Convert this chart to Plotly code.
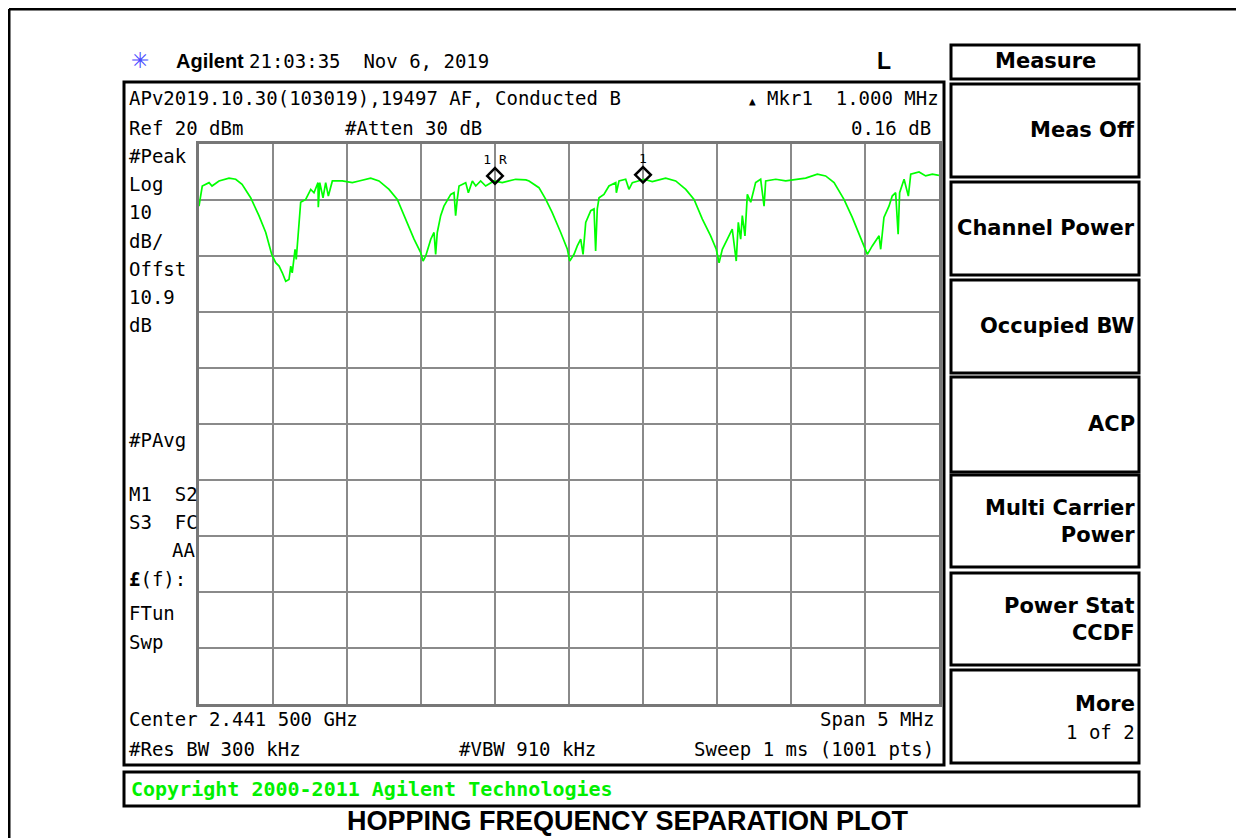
import plotly.graph_objects as go

# ---- data ----
freq_mhz = [
    2439.000, 2439.022, 2439.068, 2439.088, 2439.135, 2439.203, 2439.248, 2439.291, 2439.349, 2439.405,
    2439.451, 2439.491, 2439.518, 2439.541, 2439.563, 2439.586, 2439.608, 2439.620, 2439.630, 2439.649,
    2439.657, 2439.676, 2439.687, 2439.721, 2439.755, 2439.777, 2439.804, 2439.806, 2439.816, 2439.838,
    2439.856, 2439.874, 2439.901, 2439.968, 2440.036, 2440.081, 2440.160, 2440.216, 2440.284, 2440.340,
    2440.397, 2440.453, 2440.498, 2440.514, 2440.532, 2440.566, 2440.588, 2440.599, 2440.610, 2440.633,
    2440.655, 2440.701, 2440.723, 2440.734, 2440.745, 2440.757, 2440.802, 2440.820, 2440.847, 2440.870,
    2440.903, 2440.937, 2440.993, 2441.049, 2441.140, 2441.209, 2441.230, 2441.297, 2441.343, 2441.386,
    2441.444, 2441.489, 2441.505, 2441.534, 2441.556, 2441.579, 2441.595, 2441.613, 2441.647, 2441.669,
    2441.680, 2441.691, 2441.703, 2441.736, 2441.770, 2441.816, 2441.820, 2441.838, 2441.883, 2441.905,
    2441.928, 2442.007, 2442.063, 2442.153, 2442.221, 2442.289, 2442.345, 2442.401, 2442.457, 2442.495,
    2442.514, 2442.536, 2442.570, 2442.603, 2442.630, 2442.644, 2442.660, 2442.671, 2442.689, 2442.705,
    2442.728, 2442.761, 2442.795, 2442.818, 2442.829, 2442.897, 2442.964, 2443.032, 2443.099, 2443.178,
    2443.234, 2443.291, 2443.358, 2443.414, 2443.459, 2443.505, 2443.516, 2443.549, 2443.595, 2443.606,
    2443.628, 2443.662, 2443.684, 2443.707, 2443.724, 2443.734, 2443.764, 2443.793, 2443.809, 2443.865,
    2443.910, 2443.955, 2444.000,
]
level_dbm = [
    8.9, 12.5, 13.1, 12.5, 13.4, 13.9, 13.7, 12.8, 10.4, 7.2,
    4.2, 0.3, -1.2, -1.8, -3.0, -4.5, -4.2, -1.8, -3.0, 1.2,
    -0.6, 6.0, 9.6, 10.1, 11.9, 11.3, 13.1, 8.7, 13.1, 10.4,
    13.1, 10.7, 13.4, 13.4, 13.1, 13.4, 13.9, 13.4, 11.9, 10.1,
    6.6, 3.0, 0.6, -0.9, 0.0, 3.0, 4.2, 0.3, 4.2, 7.2,
    8.9, 11.0, 11.3, 7.2, 10.1, 12.5, 13.1, 11.3, 13.4, 12.5,
    13.4, 12.5, 13.4, 13.1, 13.7, 13.6, 13.4, 12.2, 10.1, 7.8,
    4.2, 1.2, -0.9, 0.3, 1.8, 3.0, 0.3, 6.0, 8.1, 8.4,
    0.9, 8.4, 10.4, 11.0, 12.5, 13.1, 11.3, 13.4, 13.7, 11.9,
    13.1, 13.7, 13.3, 13.9, 13.4, 11.9, 10.1, 6.6, 3.6, 1.2,
    -1.2, 1.2, 3.0, 4.8, -0.9, 6.0, 3.0, 7.2, 3.6, 11.0,
    9.6, 13.1, 13.7, 8.9, 13.4, 13.7, 13.4, 13.7, 13.9, 14.6,
    14.3, 13.1, 10.1, 6.9, 3.9, 0.9, 0.3, 1.8, 3.6, 1.2,
    6.9, 8.9, 10.7, 11.3, 3.9, 11.3, 13.7, 10.7, 14.6, 15.0,
    14.3, 14.6, 14.4,
]

marker_names = ["1 R", "1"]
marker_freq = [2441.0, 2442.0]
marker_db = [14.3, 14.5]

left_labels = ["#Peak", "Log", "10", "dB/", "Offst", "10.9", "dB"]
softkeys = ["Meas Off", "Channel Power", "Occupied BW", "ACP",
            "Multi Carrier<br>Power", "Power Stat<br>CCDF"]

# ---- page geometry (screen pixels, page body has an 8px margin) ----
W, H = 1236, 830
OFF = 8
MONO = "DejaVu Sans Mono"
SANS = "Liberation Sans"
KEYF = "DejaVu Sans"
NB = "\u00a0"


def px(x):
    return (x - OFF) / W


def py(y):
    return 1 - (y - OFF) / H


fig = go.Figure()

fig.add_trace(go.Scatter(
    x=freq_mhz, y=level_dbm, mode="lines",
    line=dict(color="#00ff00", width=1.7), showlegend=False, hoverinfo="skip",
))
fig.add_trace(go.Scatter(
    x=marker_freq, y=marker_db, mode="markers+text",
    marker=dict(symbol="diamond-open", size=12, color="black", line=dict(width=2.5, color="black")),
    text=marker_names, textposition="top center",
    textfont=dict(family=MONO, size=13, color="black"),
    showlegend=False, hoverinfo="skip", cliponaxis=False,
))

shapes = []


def box(x0, y0, x1, y1, w=3):
    shapes.append(dict(type="rect", xref="paper", yref="paper",
                       x0=px(x0), x1=px(x1), y0=py(y1), y1=py(y0),
                       line=dict(color="black", width=w), fillcolor="rgba(0,0,0,0)"))


# outer frame (top and left edges only visible)
shapes.append(dict(type="line", xref="paper", yref="paper", x0=px(9), x1=px(1244), y0=py(9), y1=py(9),
                   line=dict(color="black", width=3)))
shapes.append(dict(type="line", xref="paper", yref="paper", x0=px(9), x1=px(9), y0=py(9), y1=py(838),
                   line=dict(color="black", width=3)))

box(124, 82, 944, 765)      # instrument display
box(124, 772, 1139, 806)    # copyright bar
key_rows = [(84, 177), (182, 275), (280, 373), (377, 472), (475, 567), (573, 665), (670, 763)]
box(951, 45, 1139, 79)      # "Measure" title
for y0, y1 in key_rows:
    box(951, y0, 1139, y1)

ann = []


def txt(x, y, s, anchor="left", size=19, color="black", family=MONO):
    ann.append(dict(x=px(x), y=py(y), xref="paper", yref="paper", text=s, showarrow=False,
                    xanchor=anchor, yanchor="middle", align=anchor,
                    font=dict(family=family, size=size, color=color)))


# header line
txt(129, 61, "\u2733", size=22, color="#4a4aff", family="DejaVu Sans")
txt(174, 61, "<b>Agilent</b>", size=20, family=SANS)
txt(247, 61, "21:03:35" + NB * 2 + "Nov 6, 2019", size=19)
txt(893, 61, "<b>L</b>", anchor="right", size=23, family=SANS)

# top info
txt(127, 98, "APv2019.10.30(103019),19497 AF, Conducted B")
txt(941, 98, "<span style='font-size:11px'>\u25b2</span>" + NB + "Mkr1" + NB * 2 + "1.000 MHz", anchor="right")
txt(127, 128, "Ref 20 dBm")
txt(343, 128, "#Atten 30 dB")
txt(933, 128, "0.16 dB", anchor="right")

# left column
for i, lab in enumerate(left_labels):
    txt(127, 156 + i * 28.2, lab)
txt(127, 440, "#PAvg")
txt(127, 494, "M1" + NB * 2 + "S2")
txt(127, 522, "S3" + NB * 2 + "FC")
txt(197, 550, "AA", anchor="right")
txt(127, 579, "<b>\u00a3</b>(f):")
txt(127, 613, "FTun")
txt(127, 642, "Swp")

# bottom info
txt(127, 719, "Center 2.441 500 GHz")
txt(936, 719, "Span 5 MHz", anchor="right")
txt(127, 749, "#Res BW 300 kHz")
txt(457, 749, "#VBW 910 kHz")
txt(936, 749, "Sweep 1 ms (1001 pts)", anchor="right")

txt(129, 789, "<b>Copyright 2000-2011 Agilent Technologies</b>", size=20, color="#00f000")

# softkeys
txt(1045, 61, "<b>Measure</b>", anchor="center", size=21, family=KEYF)
key_centres = [130, 228, 326, 424, 521, 619]
for lab, yc in zip(softkeys, key_centres):
    txt(1137, yc, "<b>" + lab + "</b>", anchor="right", size=21, family=KEYF)
txt(1137, 704, "<b>More</b>", anchor="right", size=21, family=KEYF)
txt(1137, 732, "1 of 2", anchor="right", size=19)

# caption
txt(628, 821, "<b>HOPPING FREQUENCY SEPARATION PLOT</b>", anchor="center", size=27, family=SANS)

fig.update_layout(
    width=W, height=H,
    margin=dict(l=0, r=0, t=0, b=0),
    paper_bgcolor="white", plot_bgcolor="white",
    shapes=shapes, annotations=ann,
    xaxis=dict(domain=[px(199), px(939)], range=[2439.0, 2444.0], tick0=2439.0, dtick=0.5,
               showticklabels=False, ticks="", showgrid=True, gridcolor="#8a8a8a", gridwidth=2,
               zeroline=False, showline=True, mirror=True, linecolor="#777777", linewidth=3,
               fixedrange=True),
    yaxis=dict(domain=[py(704), py(144)], range=[-80, 20], tick0=-80, dtick=10,
               showticklabels=False, ticks="", showgrid=True, gridcolor="#8a8a8a", gridwidth=2,
               zeroline=False, showline=True, mirror=True, linecolor="#777777", linewidth=3,
               fixedrange=True),
)

fig.write_html("out.html")
